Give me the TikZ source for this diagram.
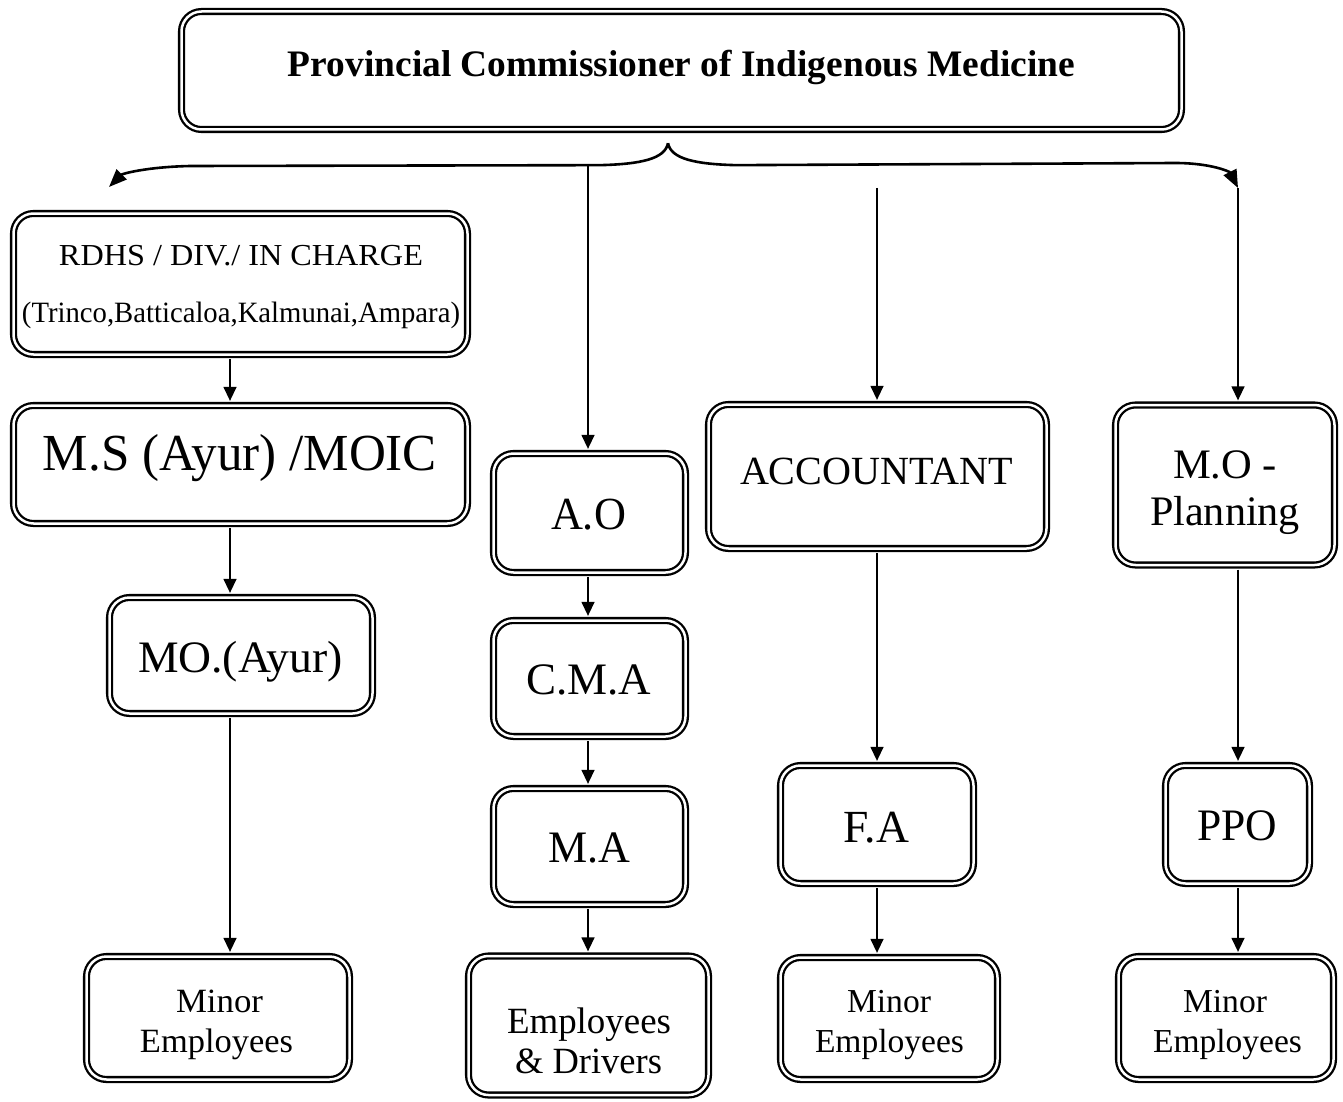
\documentclass[tikz,border=0pt]{standalone}
\usepackage{fontspec}
\setmainfont{Liberation Serif}
\usetikzlibrary{arrows.meta,calc}
\newcommand\fitw[2]{\resizebox{#1}{\height}{#2}}
\tikzset{
  box/.style={draw=black, line width=2.3pt, double=white, double distance=2.5pt,
    rounded corners=20pt, inner sep=0pt},
  txt/.style={anchor=base, inner sep=0pt, outer sep=0pt},
  arr/.style={line width=1.4pt, -{Triangle[length=14pt,width=13pt]},
    shorten >=3.5pt, shorten <=3.5pt},
  brace/.style={line width=2.6pt, -{Triangle[length=18pt,width=14pt]}},
}
\begin{document}
\begin{tikzpicture}[x=1pt,y=-1pt]
\useasboundingbox (0,0) rectangle (1343,1102);
% columns
\coordinate (cA) at (230,0);
\coordinate (cB) at (588,0);
\coordinate (cC) at (877,0);
\coordinate (cD) at (1238,0);
% boxes (outer size minus 7)
\node[box, minimum width=1000pt, minimum height=118pt] (top) at (681.5,70.5) {};
\node[box, minimum width=454pt, minimum height=141pt] (rdhs) at (240.5,284) {};
\node[box, minimum width=454pt, minimum height=118pt] (ms) at (240.5,464.5) {};
\node[box, minimum width=263pt, minimum height=116pt] (moa) at (241,655.5) {};
\node[box, minimum width=263pt, minimum height=123pt] (min1) at (218,1018) {};
\node[box, minimum width=192pt, minimum height=119pt] (ao) at (589.5,513) {};
\node[box, minimum width=192pt, minimum height=116pt] (cma) at (589.5,678.5) {};
\node[box, minimum width=192pt, minimum height=116pt] (ma) at (589.5,846.5) {};
\node[box, minimum width=240pt, minimum height=139pt] (ed) at (588.5,1025.5) {};
\node[box, minimum width=338pt, minimum height=144pt] (acc) at (877.5,476.5) {};
\node[box, minimum width=193pt, minimum height=118pt] (fa) at (877,824.5) {};
\node[box, minimum width=217pt, minimum height=122pt] (min3) at (889,1018.5) {};
\node[box, minimum width=219pt, minimum height=160pt] (mop) at (1225,485) {};
\node[box, minimum width=144pt, minimum height=118pt] (ppo) at (1237.5,824.5) {};
\node[box, minimum width=215pt, minimum height=123pt] (min4) at (1226,1018) {};
% texts
\node[txt, font=\fontsize{37.4}{40}\selectfont\bfseries] (ttop) at (681.5,77)
  {\fitw{787pt}{Provincial Commissioner of Indigenous Medicine}};
\node[txt, font=\fontsize{30.5}{32}\selectfont] (trdhs1) at (241,265) {\fitw{364pt}{RDHS / DIV./ IN CHARGE}};
\node[txt, font=\fontsize{29.5}{31}\selectfont] (trdhs2) at (241,322) {\fitw{438pt}{(Trinco,Batticaloa,Kalmunai,Ampara)}};
\node[txt, font=\fontsize{52}{54}\selectfont] (tms) at (240,470) {\fitw{394pt}{M.S (Ayur) /MOIC}};
\node[txt, font=\fontsize{45}{48}\selectfont] (tmoa) at (240.5,672) {\fitw{205pt}{MO.(Ayur)}};
\node[txt, font=\fontsize{34}{36}\selectfont] (tmin1a) at (219.5,1012) {\fitw{87pt}{Minor}};
\node[txt, font=\fontsize{34}{36}\selectfont] (tmin1b) at (216.5,1052) {\fitw{153pt}{Employees}};
\node[txt, font=\fontsize{46}{48}\selectfont] (tao) at (588.5,529) {\fitw{75pt}{A.O}};
\node[txt, font=\fontsize{45}{48}\selectfont] (tcma) at (588.5,694) {\fitw{125pt}{C.M.A}};
\node[txt, font=\fontsize{45}{48}\selectfont] (tma) at (589,862) {\fitw{82pt}{M.A}};
\node[txt, font=\fontsize{37}{40}\selectfont] (ted1) at (589,1033) {\fitw{164pt}{Employees}};
\node[txt, font=\fontsize{37}{40}\selectfont] (ted2) at (588.5,1073) {\fitw{147pt}{\& Drivers}};
\node[txt, font=\fontsize{40}{42}\selectfont] (tacc) at (876.5,484) {\fitw{273pt}{ACCOUNTANT}};
\node[txt, font=\fontsize{46}{48}\selectfont] (tfa) at (876,842) {\fitw{66pt}{F.A}};
\node[txt, font=\fontsize{33.5}{36}\selectfont] (tmin3a) at (889,1012) {\fitw{84pt}{Minor}};
\node[txt, font=\fontsize{33.5}{36}\selectfont] (tmin3b) at (889.5,1052) {\fitw{149pt}{Employees}};
\node[txt, font=\fontsize{42}{44}\selectfont] (tmop1) at (1225,478) {\fitw{104pt}{M.O -}};
\node[txt, font=\fontsize{42}{44}\selectfont] (tmop2) at (1225,525) {\fitw{150pt}{Planning}};
\node[txt, font=\fontsize{45}{46}\selectfont] (tppo) at (1237,840) {\fitw{80pt}{PPO}};
\node[txt, font=\fontsize{33.5}{36}\selectfont] (tmin4a) at (1225,1012) {\fitw{84pt}{Minor}};
\node[txt, font=\fontsize{33.5}{36}\selectfont] (tmin4b) at (1227.5,1052) {\fitw{149pt}{Employees}};
% brace
\coordinate (tip) at ($(top.south)+(-13.5,12.5)$);
\coordinate (bB) at (588,164.5);
\coordinate (bC) at (877,188);
\coordinate (bD) at (1238,188);
\draw[brace] (tip) .. controls ($(tip)+(-3,16)$) and ($(tip)+(-28,21)$) .. ($(tip)+(-68,22)$)
  -- (190,166) .. controls (145,167) and (122,174) .. (109,187);
\draw[brace] (tip) .. controls ($(tip)+(3,16)$) and ($(tip)+(28,21)$) .. ($(tip)+(68,22)$)
  -- (1175,163) .. controls (1212,163) and (1230,172) .. (bD);
% connectors
\draw[arr, shorten <=0pt] (bB) -- (ao.north -| cB);
\draw[arr, shorten <=0pt] (bC) -- (acc.north -| cC);
\draw[arr, shorten <=0pt] (bD) -- (mop.north -| cD);
\draw[arr] (rdhs.south -| cA) -- (ms.north -| cA);
\draw[arr] (ms.south -| cA) -- (moa.north -| cA);
\draw[arr] (moa.south -| cA) -- (min1.north -| cA);
\draw[arr] (ao.south -| cB) -- (cma.north -| cB);
\draw[arr] (cma.south -| cB) -- (ma.north -| cB);
\draw[arr] (ma.south -| cB) -- (ed.north -| cB);
\draw[arr] (acc.south -| cC) -- (fa.north -| cC);
\draw[arr] (fa.south -| cC) -- (min3.north -| cC);
\draw[arr] (mop.south -| cD) -- (ppo.north -| cD);
\draw[arr] (ppo.south -| cD) -- (min4.north -| cD);
\end{tikzpicture}
\end{document}
